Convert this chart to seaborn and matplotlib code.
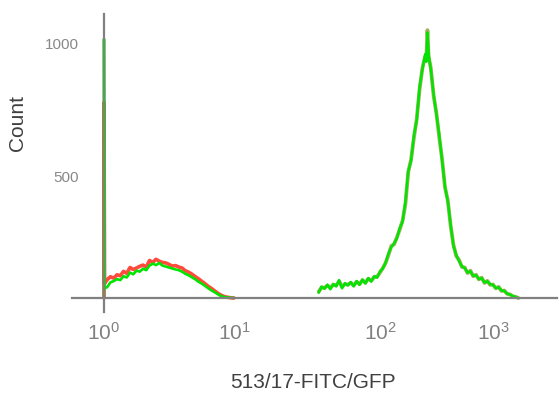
import numpy as np
import matplotlib.pyplot as plt
import seaborn as sns

sns.set_style("white")
plt.rcParams['font.family'] = ['Liberation Sans', 'DejaVu Sans']
plt.rcParams['mathtext.fontset'] = 'custom'
plt.rcParams['mathtext.rm'] = 'Liberation Sans'

# channel values (FITC intensity) and counts
# left population, first channel holds the pile-up spike
left_x = [1.0, 1.0, 1.01,
          1.059, 1.122, 1.189, 1.259, 1.334, 1.413, 1.496, 1.585, 1.679, 1.778,
          1.884, 1.995, 2.113, 2.239, 2.371, 2.512, 2.661, 2.818, 2.985, 3.162,
          3.350, 3.548, 3.758, 3.981, 4.217, 4.467, 4.732, 5.012, 5.309, 5.623,
          5.957, 6.310, 6.683, 7.079, 7.499, 7.943, 8.414, 8.913, 9.441, 10.0]
left_green = [0, 1019, 40,
              45, 65, 70, 78, 74, 90, 85, 105, 98, 113,
              109, 121, 115, 134, 142, 136, 145, 134, 130, 126,
              122, 118, 115, 109, 100, 94, 86, 78, 68, 60,
              51, 41, 32, 24, 16, 8, 4, 2, 1, 0]
left_red = [0, 780, 60,
            76, 88, 82, 96, 92, 110, 102, 126, 118, 124,
            131, 136, 128, 155, 147, 160, 152, 147, 145, 139,
            132, 134, 128, 124, 113, 107, 99, 89, 80, 70,
            60, 49, 40, 30, 20, 12, 6, 3, 1, 0]

# right (GFP positive) population
right_x = [38.02, 39.81, 41.69, 43.65, 45.71, 47.86, 50.12, 52.48, 54.95, 57.54,
           60.26, 63.10, 66.07, 69.18, 72.44, 75.86, 79.43, 83.18, 87.10, 91.20,
           95.50, 100.0,
           105.9, 112.2, 118.9, 125.9, 133.4, 141.3, 149.6, 158.5, 167.9, 177.8,
           188.4, 199.5, 211.3, 223.9, 237.1, 251.2, 257.0, 263.0, 269.2,
           281.8, 298.5, 316.2, 335.0, 354.8, 375.8, 398.1, 421.7, 446.7, 473.2,
           501.2, 530.9, 562.3, 595.7, 631.0, 668.3, 707.9, 749.9, 794.3, 841.4,
           891.3, 944.1, 1000, 1059, 1122, 1189, 1259, 1334, 1413, 1496, 1585, 1679]
right_green = [22, 47, 38, 55, 36, 58, 48, 74, 40, 61,
               52, 66, 48, 70, 54, 76, 60, 82, 68, 90,
               84, 110,
               121, 147, 184, 210, 226, 247, 289, 315, 399, 522,
               561, 656, 713, 838, 904, 962, 933, 1043, 962,
               904, 809, 733, 656, 561, 462, 399, 304, 215, 178,
               152, 131, 124, 105, 110, 92, 94, 78, 82, 64,
               69, 57, 54, 41, 44, 31, 29, 18, 14, 8, 4, 0]
right_olive = [26, 44, 42, 52, 42, 55, 52, 69, 46, 58,
               55, 63, 52, 67, 58, 74, 63, 80, 71, 86,
               88, 105,
               124, 145, 178, 215, 222, 252, 283, 320, 388, 518,
               566, 647, 718, 828, 909, 953, 943, 1052, 953,
               909, 804, 738, 647, 566, 457, 404, 299, 220, 173,
               157, 128, 126, 103, 113, 90, 96, 77, 84, 62,
               71, 54, 56, 40, 46, 29, 31, 17, 15, 7, 5, 0]

x_ticks = [1, 10, 100, 1000]
x_tick_labels = [r'$\mathregular{10^{0}}$', r'$\mathregular{10^{1}}$',
                 r'$\mathregular{10^{2}}$', r'$\mathregular{10^{3}}$']
y_ticks = [500, 1000]

# neither axis of the original is evenly spaced, so map it piecewise
dec = [-1, 0, 1, 2, 3, 4]
dec_pos = [-130, 0, 130, 276, 389, 502]
cnt = [-1000, 0, 500, 1000, 2000]
cnt_pos = [-242, 0, 121, 254, 520]


def fwd_x(x):
    return np.interp(np.log10(np.clip(x, 1e-6, None)), dec, dec_pos)


def inv_x(p):
    return 10 ** np.interp(p, dec_pos, dec)


def fwd_y(y):
    return np.interp(y, cnt, cnt_pos)


def inv_y(p):
    return np.interp(p, cnt_pos, cnt)


fig = plt.figure(figsize=(5.59, 3.94), dpi=100)
ax = fig.add_axes([0.1288, 0.2081, 0.8676, 0.7564])
ax.set_xscale('function', functions=(fwd_x, inv_x))
ax.set_yscale('function', functions=(fwd_y, inv_y))

for xs, ys, col, lw, a in [(left_x, left_red, '#ff2a1a', 2.6, 0.85),
                           (right_x, right_olive, '#8c9a3a', 2.7, 0.8),
                           (left_x, left_green, '#00e400', 1.9, 1.0),
                           (right_x, right_green, '#00e400', 1.8, 1.0)]:
    sns.lineplot(x=xs, y=ys, ax=ax, color=col, linewidth=lw, alpha=a,
                 estimator=None, sort=False)

ax.set_xlim(10 ** (-32 / 130), 10 ** (3 + 64 / 113))
ax.set_ylim(-14 * 500 / 121, 1000 + 30 * 500 / 133)

ax.spines['top'].set_visible(False)
ax.spines['right'].set_visible(False)
ax.spines['left'].set_position(('data', 1))
ax.spines['bottom'].set_position(('data', 0))
for s in ['left', 'bottom']:
    ax.spines[s].set_color('#808080')
    ax.spines[s].set_linewidth(1.6)

ax.set_xticks(x_ticks, labels=x_tick_labels)
ax.xaxis.set_minor_locator(plt.NullLocator())
ax.set_yticks(y_ticks, labels=[str(v) for v in y_ticks])
ax.yaxis.set_minor_locator(plt.NullLocator())
ax.tick_params(axis='x', length=11, width=1, color='#dddddd', pad=6,
               labelsize=15, labelcolor='#808080')
ax.tick_params(axis='y', length=10, width=1, color='#dddddd', pad=8,
               labelsize=11, labelcolor='#888888')

ax.set_xlabel('513/17-FITC/GFP', fontsize=15, color='#404040')
ax.set_ylabel('Count', fontsize=15, color='#404040')
ax.xaxis.set_label_coords(0.497, -0.205)
ax.yaxis.set_label_coords(-0.093, 0.634)

fig.savefig('out.png', dpi=100)
